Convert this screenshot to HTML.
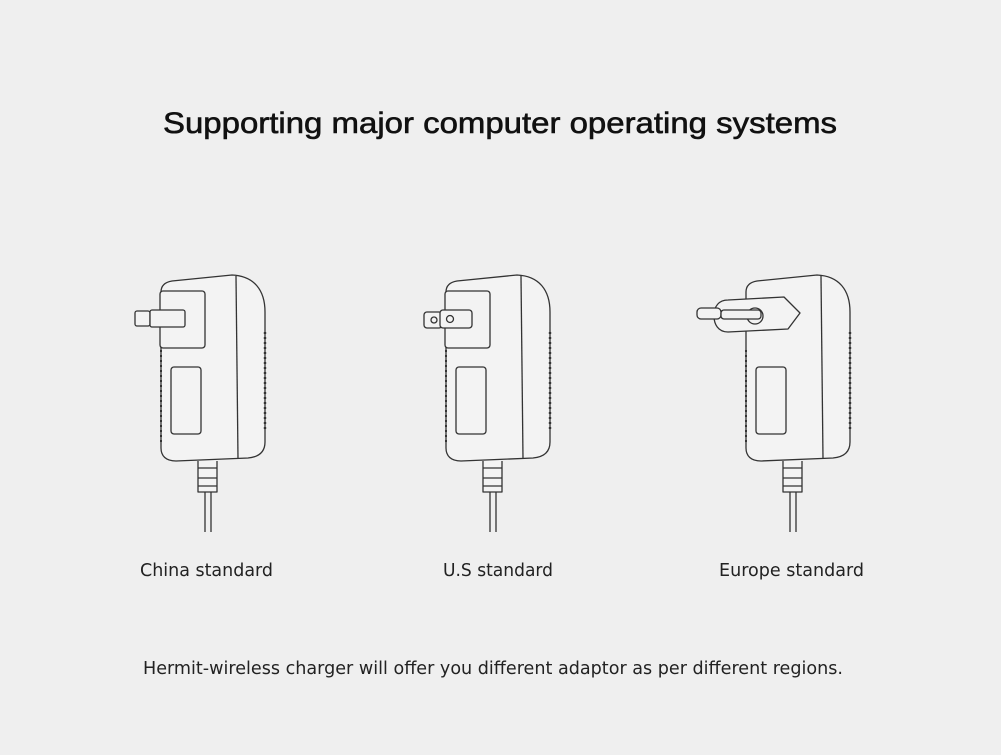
<!DOCTYPE html>
<html><head><meta charset="utf-8"><style>
html,body{margin:0;padding:0;background:#efefef;}
svg{display:block}
</style></head><body>
<svg width="1001" height="755" viewBox="0 0 1001 755" xmlns="http://www.w3.org/2000/svg">
<rect width="1001" height="755" fill="#efefef"/>
<defs>
<g id="body" fill="none" stroke="#333" stroke-width="1.3" stroke-linejoin="round">
  <path d="M161,292 C161,285 166,282 172,281 L232,275 C254,276 265,290 265,312 L265,442 C265,452 259,457 248,458 L176,461 C166,461 161,456 161,448 Z" fill="#f3f3f3"/>
  <path d="M236,276 L238,459"/>
  <path d="M265,332 L265,430" stroke-width="2.4" stroke-dasharray="2 3"/>
  <path d="M161,350 L161,445" stroke-width="2" stroke-dasharray="2 3"/>
  <rect x="171" y="367" width="30" height="67" rx="3"/>
  <path d="M198,461 L198,492 L217,492 L217,461 M198,468 H217 M198,478 H217 M198,486 H217" fill="#f3f3f3"/>
  <path d="M205,492 V532 M211,492 V532"/>
</g>
</defs>
<use href="#body"/>
<g fill="#f3f3f3" stroke="#333" stroke-width="1.3" stroke-linejoin="round">
  <rect x="160" y="291" width="45" height="57" rx="3"/>
  <rect x="135" y="311" width="15" height="15" rx="2"/>
  <rect x="150" y="310" width="35" height="17" rx="2"/>
</g>
<g transform="translate(285,0)"><use href="#body"/></g>
<g fill="#f3f3f3" stroke="#333" stroke-width="1.3" stroke-linejoin="round">
  <rect x="445" y="291" width="45" height="57" rx="3"/>
  <rect x="424" y="312" width="18" height="16" rx="3"/>
  <circle cx="434" cy="320" r="3"/>
  <rect x="440" y="310" width="32" height="18" rx="3"/>
  <circle cx="450" cy="319" r="3.5"/>
</g>
<g transform="translate(585,0)"><use href="#body"/></g>
<g fill="#f3f3f3" stroke="#333" stroke-width="1.3" stroke-linejoin="round">
  <path d="M728,300 L784,297 L800,313 L788,329 L728,332 C718,332 714,324 714,316 C714,306 719,300 728,300 Z"/>
  <circle cx="755" cy="316" r="8"/>
  <rect x="697" y="308" width="24" height="11" rx="4"/>
  <rect x="721" y="310" width="40" height="9" rx="3"/>
</g>
<text x="163" y="133" font-family="Liberation Sans, sans-serif" fill="#111" stroke="#111" stroke-width="0.6" font-size="30" textLength="674" lengthAdjust="spacingAndGlyphs">Supporting major computer operating systems</text>
<g font-family="DejaVu Sans, Liberation Sans, sans-serif" fill="#222" font-size="18">
  <text x="140" y="576" textLength="133" lengthAdjust="spacingAndGlyphs">China standard</text>
  <text x="443" y="576" textLength="110" lengthAdjust="spacingAndGlyphs">U.S standard</text>
  <text x="719" y="576" textLength="145" lengthAdjust="spacingAndGlyphs">Europe standard</text>
  <text x="143" y="674" textLength="700" lengthAdjust="spacingAndGlyphs">Hermit-wireless charger will offer you different adaptor as per different regions.</text>
</g>
</svg>
</body></html>
